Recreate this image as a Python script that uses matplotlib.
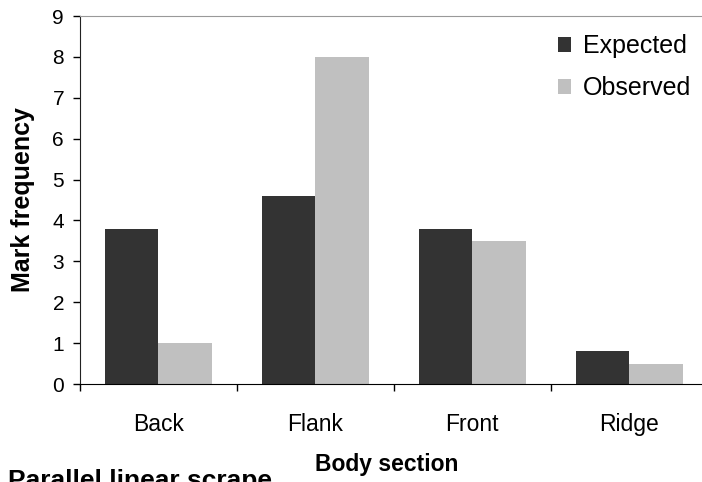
import matplotlib.pyplot as plt
import numpy as np

plt.rcParams['font.family'] = ['Liberation Sans', 'DejaVu Sans']

sections = ['Back', 'Flank', 'Front', 'Ridge']
expected = [3.8, 4.6, 3.8, 0.8]
observed = [1.0, 8.0, 3.5, 0.5]

fig = plt.figure(figsize=(7.02, 4.82), dpi=100)
ax = fig.add_axes([0.114, 0.2033, 0.894, 0.7635])

x = np.arange(len(sections))
w = 0.34
ax.bar(x - w / 2, expected, w, color='#333333', label='Expected')
ax.bar(x + w / 2, observed, w, color='#c0c0c0', label='Observed')

ax.set_xlim(-0.5, len(sections) - 0.5)
ax.set_ylim(0, 9)
ax.set_yticks(range(10))
ax.tick_params(axis='y', labelsize=15, length=5, width=1, direction='out', pad=6.5)

# category labels centred, ticks on the boundaries
ax.set_xticks(x)
ax.set_xticklabels(sections, fontsize=16.5)
ax.tick_params(axis='x', which='major', length=0, pad=21)
ax.set_xticks(np.arange(len(sections) + 1) - 0.5, minor=True)
ax.tick_params(axis='x', which='minor', length=5, width=1, direction='out')

ax.spines['left'].set_color('#222222')
ax.spines['bottom'].set_color('#000000')
ax.spines['top'].set_color('#999999')
ax.spines['right'].set_color('#999999')

ax.set_ylabel('Mark frequency', fontsize=18, fontweight='bold')
ax.yaxis.set_label_coords(-0.0717, 0.5)
fig.text(0.551, 0.037, 'Body section', fontsize=16.5, fontweight='bold',
         ha='center', va='center')
fig.text(0.011, -0.012, 'Parallel linear scrape', fontsize=19, fontweight='bold',
         ha='left', va='baseline')

ax.legend(loc='upper right', bbox_to_anchor=(0.99, 0.977), frameon=False,
          fontsize=18, handlelength=0.5, handleheight=0.5, handletextpad=0.5,
          labelspacing=0.72, borderaxespad=0)

fig.savefig('out.png', dpi=100)
